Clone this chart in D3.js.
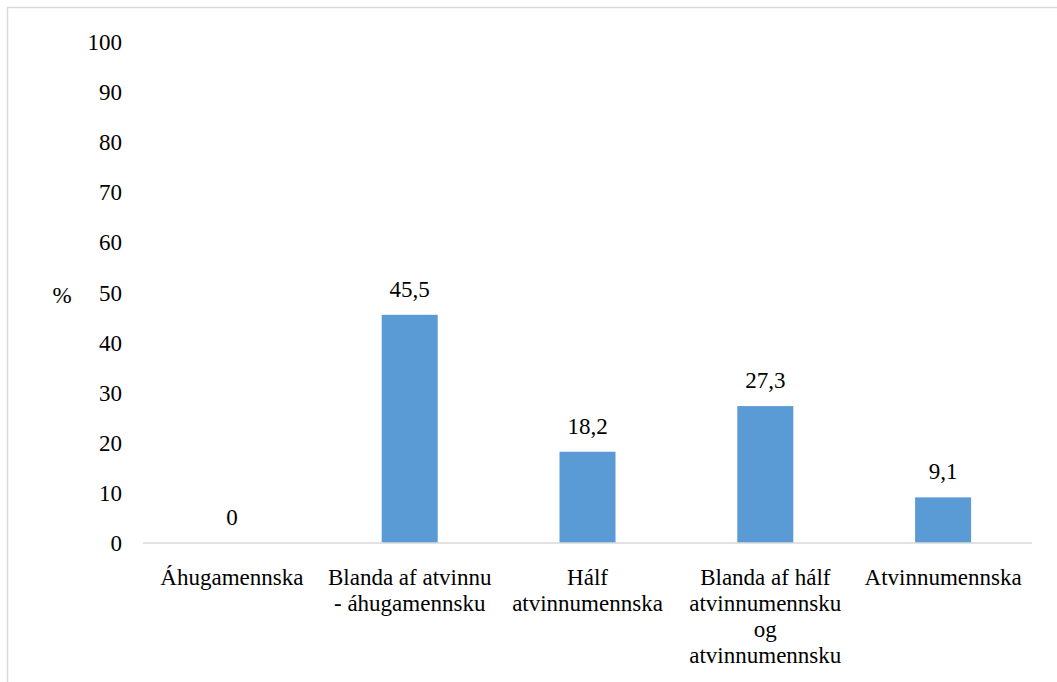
<!DOCTYPE html>
<html>
<head>
<meta charset="utf-8">
<script src="https://cdn.jsdelivr.net/npm/d3@7"></script>
<style>
  html, body { margin: 0; padding: 0; background: #fff; }
  svg { display: block; }
</style>
</head>
<body>
<svg id="chart" width="1057" height="682"></svg>
<script>
// Category labels (line breaks mark wrapped lines)
const categories = [
  "Áhugamennska",
  "Blanda af atvinnu\n- áhugamennsku",
  "Hálf\natvinnumennska",
  "Blanda af hálf\natvinnumennsku\nog\natvinnumennsku",
  "Atvinnumennska"
];
const values = [0, 45.5, 18.2, 27.3, 9.1];
const valueLabels = ["0", "45,5", "18,2", "27,3", "9,1"];
const yTicks = [0, 10, 20, 30, 40, 50, 60, 70, 80, 90, 100];
const yAxisTitle = "%";

const FONT = "'Liberation Serif', 'Times New Roman', serif";
const fontSize = 23;

const svg = d3.select("#chart");
const W = 1057, H = 682;

function styleText(sel) {
  return sel
    .style("font-family", FONT, "important")
    .style("font-size", fontSize + "px", "important")
    .style("fill", "#000");
}

// Outer frame (only top and left edges fall inside the view)
svg.append("rect")
  .attr("x", 7.5).attr("y", 7.5)
  .attr("width", W + 20).attr("height", H + 20)
  .attr("fill", "none").attr("stroke", "#d9d9d9").attr("stroke-width", 1.5);

const plot = { left: 143, right: 1032, top: 41.5, bottom: 543 };

const x = d3.scaleBand()
  .domain(categories)
  .range([plot.left, plot.right])
  .paddingInner(0.685)
  .paddingOuter(0.3425);

const y = d3.scaleLinear()
  .domain([0, 100])
  .range([plot.bottom, plot.top]);

// Y axis: labels only, no line or ticks
const yAxis = d3.axisLeft(y).tickValues(yTicks).tickSize(0).tickPadding(0)
  .tickFormat(d3.format("d"));
const gy = svg.append("g")
  .attr("transform", `translate(${plot.left - 21},0)`)
  .call(yAxis);
gy.select(".domain").remove();
styleText(gy.selectAll("text")).attr("dy", "0.34em");

// Axis title
styleText(svg.append("text")
  .attr("x", 62).attr("y", y(49.5))
  .attr("text-anchor", "middle")
  .attr("dy", "0.34em")
  .text(yAxisTitle));

// Bars
svg.append("g").selectAll("rect")
  .data(values)
  .join("rect")
  .attr("x", (d, i) => x(categories[i]))
  .attr("y", d => y(d))
  .attr("width", x.bandwidth())
  .attr("height", d => y(0) - y(d))
  .attr("fill", "#5b9bd5");

// Baseline
svg.append("line")
  .attr("x1", plot.left).attr("x2", plot.right)
  .attr("y1", y(0)).attr("y2", y(0))
  .attr("stroke", "#d9d9d9").attr("stroke-width", 1.5);

// Value labels
styleText(svg.append("g").selectAll("text")
  .data(values)
  .join("text")
  .attr("x", (d, i) => x(categories[i]) + x.bandwidth() / 2)
  .attr("y", d => y(d) - 18)
  .attr("text-anchor", "middle")
  .text((d, i) => valueLabels[i]));

// Category labels (wrapped)
const xAxis = svg.append("g");
categories.forEach(c => {
  const t = styleText(xAxis.append("text")
    .attr("x", x(c) + x.bandwidth() / 2)
    .attr("y", plot.bottom + 42)
    .attr("text-anchor", "middle"));
  c.split("\n").forEach((line, j) => {
    t.append("tspan")
      .attr("x", x(c) + x.bandwidth() / 2)
      .attr("dy", j === 0 ? 0 : 26)
      .text(line);
  });
});
</script>
</body>
</html>
